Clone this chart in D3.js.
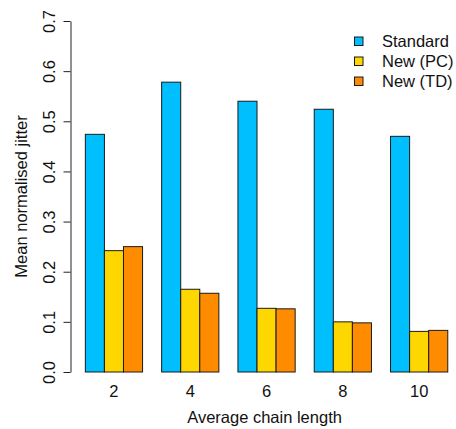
<!DOCTYPE html>
<html>
<head>
<meta charset="utf-8">
<script src="https://cdn.jsdelivr.net/npm/d3@7"></script>
<style>
  body { margin: 0; background: #fff; }
  svg { display: block; font-family: "Liberation Sans", Arial, Helvetica, sans-serif; }
  text { fill: #111; }
</style>
</head>
<body>
<svg id="chart" width="456" height="429"></svg>
<script>
const chainLengths = ["2", "4", "6", "8", "10"];
const seriesNames = ["Standard", "New (PC)", "New (TD)"];
const standardJitter = [0.474, 0.578, 0.540, 0.524, 0.470];
const pcJitter = [0.242, 0.165, 0.127, 0.100, 0.081];
const tdJitter = [0.250, 0.157, 0.126, 0.098, 0.083];
const yTicks = [0, 0.1, 0.2, 0.3, 0.4, 0.5, 0.6, 0.7];
const seriesColors = ["#00BFFF", "#FFD700", "#FF8C00"];

const allSeries = [standardJitter, pcJitter, tdJitter];
const rows = chainLengths.map((c, i) => ({
  group: c,
  values: seriesNames.map((s, k) => ({ key: s, value: allSeries[k][i] }))
}));

const svg = d3.select("#chart");
const fontSize = 16.5;

const y = d3.scaleLinear().domain([0, 0.7]).range([372, 21]);

const x = d3.scaleBand()
  .domain(chainLengths)
  .range([75.8, 457.3])
  .paddingInner(0.25)
  .paddingOuter(0.125);

const xInner = d3.scaleBand()
  .domain(seriesNames)
  .range([0, x.bandwidth()]);

const color = d3.scaleOrdinal().domain(seriesNames).range(seriesColors);

// bars
const groups = svg.append("g")
  .selectAll("g")
  .data(rows)
  .join("g")
  .attr("transform", (d) => `translate(${x(d.group)},0)`);

groups.selectAll("rect")
  .data((d) => d.values)
  .join("rect")
  .attr("x", (d) => xInner(d.key))
  .attr("y", (d) => y(d.value))
  .attr("width", xInner.bandwidth())
  .attr("height", (d) => y(0) - y(d.value))
  .attr("fill", (d) => color(d.key))
  .attr("stroke", "#1a1a1a")
  .attr("stroke-width", 1);

// y axis
const yAxis = svg.append("g")
  .attr("transform", "translate(70.5,0)")
  .call(d3.axisLeft(y).tickValues(yTicks).tickFormat(d3.format(".1f")).tickSize(7).tickSizeOuter(0));

yAxis.select(".domain").attr("stroke", "#222");
yAxis.selectAll(".tick line").attr("stroke", "#222");
yAxis.selectAll(".tick text")
  .attr("font-size", fontSize)
  .attr("font-family", "Liberation Sans, Arial, sans-serif")
  .attr("fill", "#111")
  .attr("text-anchor", "middle")
  .attr("transform", "rotate(-90)")
  .attr("x", 0)
  .attr("y", -16)
  .attr("dy", 0);

// x labels (no axis line)
svg.append("g")
  .selectAll("text")
  .data(chainLengths)
  .join("text")
  .attr("x", (d) => x(d) + x.bandwidth() / 2)
  .attr("y", 397)
  .attr("text-anchor", "middle")
  .attr("font-size", fontSize)
  .text((d) => d);

// axis titles
svg.append("text")
  .attr("x", (x.range()[0] + 9.5 + 447.8) / 2 - 2)
  .attr("y", 423)
  .attr("text-anchor", "middle")
  .attr("font-size", fontSize)
  .text("Average chain length");

svg.append("text")
  .attr("transform", `translate(27,${(y(0) + y(0.7)) / 2}) rotate(-90)`)
  .attr("text-anchor", "middle")
  .attr("font-size", fontSize)
  .text("Mean normalised jitter");

// legend
const legend = svg.append("g")
  .selectAll("g")
  .data(seriesNames)
  .join("g")
  .attr("transform", (d, i) => `translate(354,${41 + i * 20})`);

legend.append("rect")
  .attr("x", 0.5)
  .attr("y", -4)
  .attr("width", 8.5)
  .attr("height", 8.5)
  .attr("fill", (d) => color(d))
  .attr("stroke", "#1a1a1a")
  .attr("stroke-width", 1);

legend.append("text")
  .attr("x", 28)
  .attr("y", 6)
  .attr("font-size", fontSize)
  .text((d) => d);
</script>
</body>
</html>
